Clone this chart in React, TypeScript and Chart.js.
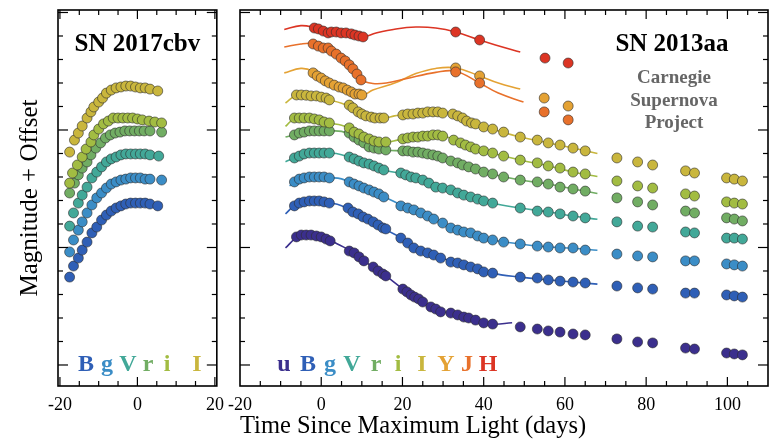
import React, { useEffect, useRef } from 'react';
import { Chart, registerables } from 'chart.js';

Chart.register(...registerables);

type P = [number, number];

const SERIF = "'Liberation Serif', 'Times New Roman', Times, serif";

// y axis: magnitude + offset (reversed), x axis: days since maximum light
const Y_MIN = 4.894;
const Y_MAX = 20.894;
const LEFT_X_MIN = -20.5;
const LEFT_X_MAX = 20.5;
const RIGHT_X_MIN = -20;
const RIGHT_X_MAX = 110;
const LEFT_X_LABELS = [-20, 0, 20];
const RIGHT_X_LABELS = [-20, 0, 20, 40, 60, 80, 100];

const COLORS: Record<string, string> = {
  u: '#3b2f8d',
  B: '#2f5fb6',
  g: '#3b8dc6',
  V: '#42a898',
  r: '#71ad63',
  i: '#a2bc42',
  I: '#c9b63d',
  Y: '#e4a234',
  J: '#e8712b',
  H: '#dc3524',
};

// ---------- SN 2017cbv (left panel) ----------
const cbv_I: P[] = [[-17.5,10.94],[-16.25,10.43],[-15.25,10.13],[-14.25,9.83],[-13,9.49],[-12,9.23],[-11.25,9.02],[-10,8.81],[-9,8.64],[-8,8.43],[-6.75,8.30],[-5.5,8.21],[-4.25,8.17],[-3,8.13],[-1.75,8.13],[-0.5,8.17],[0.75,8.21],[2,8.21],[3.25,8.26],[5.25,8.34]];
const cbv_i: P[] = [[-17.5,12.26],[-16.75,11.83],[-15.5,11.49],[-14.25,11.15],[-13.25,10.81],[-12,10.51],[-11.25,10.21],[-10,9.96],[-8.75,9.74],[-7.5,9.62],[-6.25,9.49],[-5,9.49],[-3.75,9.49],[-2.5,9.49],[-1.25,9.49],[0,9.53],[1.25,9.57],[3,9.62],[4.5,9.66],[6.25,9.70]];
const cbv_r: P[] = [[-17.5,12.68],[-16.25,12.26],[-15.25,11.91],[-14.25,11.62],[-13,11.36],[-12,11.06],[-10.75,10.77],[-9.5,10.55],[-8.25,10.34],[-7,10.21],[-5.75,10.13],[-4.5,10.09],[-3.25,10.04],[-2,10.04],[-0.75,10.04],[0.5,10.04],[1.75,10.04],[3.25,10.04],[6.25,10.09]];
const cbv_V: P[] = [[-17.5,14.09],[-16.5,13.53],[-15.25,13.11],[-14.25,12.77],[-13,12.43],[-11.75,12.04],[-10.5,11.79],[-9.25,11.57],[-8,11.36],[-6.75,11.23],[-5.5,11.15],[-4.25,11.06],[-3,11.02],[-1.75,11.02],[-0.5,11.02],[0.75,11.02],[2,11.02],[3.25,11.06],[5.5,11.11]];
const cbv_g: P[] = [[-17.5,15.19],[-16.5,14.68],[-15.25,14.26],[-14.25,13.91],[-13,13.53],[-11.75,13.19],[-10.5,12.89],[-9.25,12.68],[-8,12.47],[-6.75,12.30],[-5.5,12.21],[-4.25,12.13],[-3,12.09],[-1.75,12.04],[-0.5,12.04],[0.75,12.04],[2,12.09],[3.25,12.09],[6.25,12.13]];
const cbv_B: P[] = [[-17.5,16.26],[-16.5,15.79],[-15.25,15.45],[-14.25,15.11],[-13,14.77],[-11.75,14.38],[-10.5,14.13],[-9.25,13.83],[-8,13.62],[-6.75,13.45],[-5.5,13.32],[-4.25,13.23],[-3,13.15],[-1.75,13.11],[-0.5,13.11],[0.75,13.11],[2,13.11],[3.25,13.15],[5.25,13.23]];

// ---------- SN 2013aa (right panel) observations ----------
const aa_H: P[] = [[-1.7,5.66],[-0.7,5.70],[0.5,5.79],[1.7,5.87],[2.5,5.83],[3.7,5.83],[4.9,5.87],[6.1,5.87],[7.4,5.91],[8.3,5.96],[9.3,6.00],[10.3,6.04],[33.1,5.83],[39.0,6.17],[55.1,6.94],[60.8,7.15]];
const aa_J: P[] = [[-2.0,6.34],[-0.7,6.43],[0.5,6.51],[1.7,6.51],[2.5,6.64],[3.7,6.77],[4.9,6.94],[5.9,7.06],[6.9,7.23],[7.8,7.40],[8.8,7.62],[9.8,7.87],[33.1,7.53],[39.0,8.00],[54.9,9.23],[60.8,9.57]];
const aa_Y: P[] = [[-2.0,7.57],[-1.0,7.70],[0,7.79],[1.0,7.91],[2.0,8.00],[3.2,8.09],[4.4,8.17],[5.4,8.21],[6.4,8.30],[7.4,8.38],[8.3,8.47],[9.3,8.47],[10.0,8.51],[33.1,7.36],[39.0,7.70],[54.9,8.64],[60.8,8.98]];
const aa_I: P[] = [[-6.1,8.51],[-4.9,8.51],[-3.7,8.52],[-2.5,8.55],[-1.2,8.55],[0,8.60],[1.2,8.64],[2.0,8.72],[6.9,8.94],[7.8,9.06],[9.1,9.23],[10.0,9.32],[11.0,9.40],[12.3,9.45],[13.2,9.49],[14.5,9.49],[15.4,9.49],[20.1,9.36],[21.3,9.32],[22.6,9.32],[23.8,9.28],[25.0,9.28],[26.2,9.23],[27.5,9.23],[28.7,9.23],[29.9,9.28],[32.4,9.32],[33.6,9.40],[34.8,9.49],[35.8,9.62],[37.0,9.70],[38.0,9.74],[40.0,9.87],[42.2,9.96],[44.9,10.09],[49.0,10.30],[53.2,10.43],[55.9,10.55],[58.8,10.64],[62.0,10.77],[65.0,10.89],[72.8,11.19],[77.9,11.36],[81.6,11.49],[89.7,11.74],[91.9,11.83],[99.8,12.04],[101.7,12.09],[103.7,12.17]];
const aa_i: P[] = [[-6.6,9.49],[-5.4,9.49],[-4.2,9.49],[-2.9,9.49],[-1.7,9.53],[-0.5,9.57],[0.7,9.66],[2.0,9.70],[6.9,9.91],[8.1,10.09],[9.3,10.17],[10.5,10.30],[11.8,10.38],[13.0,10.47],[14.2,10.51],[15.9,10.51],[20.1,10.38],[21.3,10.34],[22.6,10.30],[23.8,10.30],[25.0,10.26],[26.2,10.26],[27.5,10.21],[28.7,10.21],[29.9,10.26],[32.6,10.43],[34.3,10.55],[35.5,10.64],[36.8,10.72],[38.0,10.81],[40.0,10.89],[42.2,10.98],[44.9,11.11],[49.0,11.28],[53.2,11.40],[55.9,11.53],[58.8,11.62],[62.0,11.79],[65.0,11.87],[72.8,12.17],[77.9,12.38],[81.6,12.47],[89.7,12.72],[91.9,12.81],[99.8,13.06],[101.7,13.11],[103.7,13.15]];
const aa_r: P[] = [[-6.6,10.21],[-5.4,10.13],[-4.2,10.09],[-2.9,10.04],[-1.7,10.04],[-0.5,10.04],[0.7,10.04],[2.0,10.04],[6.9,10.13],[8.1,10.30],[9.3,10.43],[10.5,10.55],[11.8,10.72],[13.0,10.77],[14.2,10.81],[15.9,10.85],[20.1,10.89],[21.3,10.89],[22.6,10.94],[23.8,10.94],[25.0,10.98],[26.2,11.02],[27.5,11.06],[28.7,11.11],[29.9,11.19],[31.9,11.32],[33.6,11.40],[34.8,11.49],[36.3,11.57],[38.0,11.66],[40.0,11.79],[42.2,11.87],[44.9,12.00],[49.0,12.13],[53.2,12.21],[55.9,12.30],[58.8,12.43],[62.0,12.51],[65.0,12.60],[72.8,12.89],[77.9,13.06],[81.6,13.19],[89.7,13.45],[91.9,13.53],[99.8,13.74],[101.7,13.79],[103.7,13.87]];
const aa_V: P[] = [[-6.6,11.19],[-5.4,11.11],[-4.2,11.02],[-2.9,10.98],[-1.7,10.98],[-0.5,10.98],[0.7,10.98],[2.0,10.98],[6.9,11.15],[8.1,11.23],[9.3,11.32],[10.5,11.40],[11.8,11.45],[13.0,11.53],[14.2,11.62],[15.4,11.70],[19.6,11.83],[20.8,11.91],[22.1,12.00],[23.3,12.04],[25.0,12.13],[26.5,12.26],[28.2,12.43],[29.9,12.47],[31.9,12.55],[33.6,12.68],[35.1,12.77],[36.8,12.85],[38.5,12.94],[40.0,13.02],[42.2,13.11],[49.0,13.32],[53.2,13.45],[55.9,13.49],[58.8,13.57],[62.0,13.66],[65.0,13.74],[72.8,13.91],[77.9,14.09],[81.6,14.13],[89.7,14.34],[91.9,14.38],[99.8,14.60],[101.7,14.60],[103.7,14.64]];
const aa_g: P[] = [[-6.6,12.21],[-5.4,12.09],[-4.2,12.04],[-2.9,12.00],[-1.7,12.00],[-0.5,12.00],[0.7,12.00],[2.0,12.04],[6.9,12.21],[8.1,12.30],[9.3,12.38],[10.5,12.47],[11.8,12.55],[13.0,12.64],[14.2,12.72],[15.4,12.85],[19.6,13.23],[21.3,13.32],[22.8,13.40],[24.5,13.53],[26.2,13.66],[27.7,13.79],[29.9,13.96],[31.9,14.17],[33.6,14.26],[35.1,14.34],[36.8,14.38],[38.5,14.51],[40.0,14.60],[42.2,14.68],[44.9,14.77],[49.0,14.85],[53.2,14.94],[55.9,14.98],[58.8,15.02],[62.0,15.02],[65.0,15.11],[72.8,15.28],[77.9,15.36],[81.6,15.40],[89.7,15.57],[91.9,15.57],[99.8,15.70],[101.7,15.74],[103.7,15.79]];
const aa_B: P[] = [[-6.6,13.23],[-5.4,13.11],[-4.2,13.06],[-2.9,13.02],[-1.7,13.02],[-0.5,13.02],[0.7,13.06],[2.0,13.11],[6.6,13.32],[7.8,13.49],[9.1,13.57],[10.3,13.70],[11.5,13.79],[12.8,13.91],[14.0,14.04],[15.2,14.17],[15.9,14.21],[19.6,14.60],[21.3,14.81],[22.8,15.02],[24.5,15.15],[26.2,15.23],[27.7,15.32],[29.4,15.45],[31.9,15.62],[33.6,15.66],[35.1,15.74],[36.8,15.83],[38.5,15.91],[40.0,16.04],[42.2,16.09],[49.0,16.26],[53.2,16.30],[55.9,16.38],[58.8,16.43],[62.0,16.47],[65.0,16.51],[72.8,16.64],[77.9,16.72],[81.6,16.77],[89.7,16.94],[91.9,16.94],[99.8,17.02],[101.7,17.06],[103.7,17.11]];
const aa_u: P[] = [[-6.1,14.55],[-4.9,14.47],[-3.7,14.47],[-2.5,14.47],[-1.2,14.51],[0,14.55],[1.2,14.64],[2.2,14.72],[6.9,15.15],[8.1,15.23],[9.3,15.40],[10.5,15.57],[12.8,15.83],[14.0,16.00],[15.2,16.13],[15.9,16.21],[20.1,16.77],[21.1,16.89],[22.1,17.02],[23.0,17.11],[24.0,17.19],[25.0,17.32],[27.0,17.53],[28.2,17.62],[29.4,17.74],[31.9,17.79],[33.6,17.87],[35.1,17.96],[36.3,18.00],[38.0,18.09],[40.0,18.21],[42.2,18.26],[49.0,18.38],[53.2,18.47],[55.9,18.55],[58.8,18.60],[62.0,18.68],[65.0,18.72],[72.8,18.89],[77.9,19.02],[81.6,19.06],[89.7,19.28],[91.9,19.32],[99.8,19.49],[101.7,19.53],[103.7,19.57]];

// ---------- SN 2013aa template fits (knots of the curves) ----------
const fit_H: P[] = [[-9.1,5.72],[-5,5.56],[-1.5,5.64],[4,5.85],[10,6.04],[13.5,5.87],[18.4,5.70],[23.3,5.62],[28.2,5.66],[33.1,5.83],[39,6.17],[42.9,6.38],[49,6.68]];
const fit_J: P[] = [[-9.1,6.47],[-5,6.34],[-2,6.32],[1,6.48],[5,6.92],[10,7.87],[12.7,8.02],[16,8.0],[20.8,7.82],[28.2,7.55],[33.1,7.50],[39,8.0],[43.6,8.43],[49.8,8.81]];
const fit_Y: P[] = [[-9.1,7.57],[-5,7.38],[-2,7.50],[3,8.05],[10,8.51],[12.7,8.30],[18.4,7.98],[23.3,7.60],[28.2,7.38],[33.1,7.36],[39,7.70],[43.6,8.0],[49,8.26]];
const fit_I: P[] = [[-8.8,8.85],[-6,8.52],[-2,8.54],[2,8.72],[5,8.86],[8,9.08],[11,9.40],[15.4,9.49],[18,9.40],[20,9.36],[25,9.27],[29,9.24],[33,9.36],[37,9.70],[42,9.96],[49,10.30],[56,10.55],[62,10.77],[68,11.0]];
const fit_i: P[] = [[-8.8,9.85],[-6.6,9.52],[-2,9.50],[2,9.70],[5,9.80],[8,10.0],[12,10.40],[16,10.52],[19,10.42],[24,10.29],[28,10.22],[31,10.30],[36,10.68],[42,10.98],[49,11.28],[56,11.53],[62,11.79],[68,11.98]];
const fit_r: P[] = [[-8.8,10.30],[-6.6,10.20],[-3,10.05],[2,10.04],[5,10.06],[8,10.25],[12,10.68],[16,10.85],[20,10.89],[25,10.98],[30,11.20],[36,11.55],[42,11.87],[49,12.13],[56,12.30],[62,12.51],[68,12.70]];
const fit_V: P[] = [[-8.8,11.35],[-6.6,11.19],[-3,10.98],[2,10.98],[5,11.05],[10,11.36],[16,11.72],[20,11.86],[25,12.13],[30,12.47],[36,12.82],[42,13.11],[49,13.32],[56,13.49],[62,13.66],[68,13.80]];
const fit_g: P[] = [[-7.8,12.38],[-5,12.08],[-2,12.0],[2,12.03],[5,12.08],[10,12.45],[16,12.88],[20,13.22],[25,13.55],[30,13.97],[36,14.40],[42,14.68],[49,14.85],[56,14.98],[62,15.03],[68,15.12]];
const fit_B: P[] = [[-8.8,13.57],[-6,13.15],[-2,13.02],[2,13.10],[5,13.22],[10,13.68],[16,14.25],[20,14.62],[24,15.12],[30,15.47],[36,15.78],[42,16.09],[49,16.26],[56,16.38],[62,16.47],[68,16.56]];
const fit_u: P[] = [[-8.8,15.02],[-6,14.58],[-3,14.47],[1,14.58],[4,14.85],[8,15.22],[12,15.75],[16,16.22],[20,16.75],[25,17.32],[30,17.72],[36,18.00],[42,18.26],[47,18.20]];

const LEFT_BANDS: [string, P[]][] = [['I', cbv_I], ['i', cbv_i], ['r', cbv_r], ['V', cbv_V], ['g', cbv_g], ['B', cbv_B]];
const RIGHT_BANDS: [string, P[], P[]][] = [
  ['H', aa_H, fit_H], ['J', aa_J, fit_J], ['Y', aa_Y, fit_Y], ['I', aa_I, fit_I], ['i', aa_i, fit_i],
  ['r', aa_r, fit_r], ['V', aa_V, fit_V], ['g', aa_g, fit_g], ['B', aa_B, fit_B], ['u', aa_u, fit_u],
];

// band-letter legends (letter, x offset from plot-left in px)
const LEFT_LEGEND: [string, number][] = [['B', 28], ['g', 49], ['V', 70], ['r', 90], ['i', 109], ['I', 139]];
const RIGHT_LEGEND: [string, number][] = [['u', 44], ['B', 68], ['g', 90], ['V', 112], ['r', 136], ['i', 158], ['I', 182], ['Y', 206], ['J', 227], ['H', 248]];

function pointSet(data: P[], color: string) {
  return {
    data: data.map(([x, y]) => ({ x, y })),
    pointRadius: 5,
    pointHoverRadius: 5,
    pointBackgroundColor: color,
    backgroundColor: color,
    pointBorderColor: 'rgba(45,45,45,0.75)',
    borderColor: 'rgba(45,45,45,0.75)',
    pointBorderWidth: 0.8,
    showLine: false,
    order: 1,
  };
}

function lineSet(data: P[], color: string) {
  return {
    data: data.map(([x, y]) => ({ x, y })),
    showLine: true,
    pointRadius: 0,
    pointHoverRadius: 0,
    borderColor: color,
    backgroundColor: color,
    borderWidth: 1.6,
    tension: 0.4,
    fill: false,
    order: 2,
  };
}

const framePlugin = {
  id: 'frame',
  afterDatasetsDraw(chart: any, _args: any, opts: any) {
    const { ctx, chartArea: a, scales } = chart;
    const xs = scales.x;
    const ys = scales.y;
    ctx.save();
    ctx.strokeStyle = '#000';
    ctx.lineWidth = 1.2;
    const seg = (x1: number, y1: number, x2: number, y2: number) => {
      ctx.beginPath();
      ctx.moveTo(x1, y1);
      ctx.lineTo(x2, y2);
      ctx.stroke();
    };
    const isMajor = (v: number, m: number) => Math.abs(v / m - Math.round(v / m)) < 1e-6;
    for (let v = Math.ceil(xs.min / opts.xMinor) * opts.xMinor; v <= xs.max + 1e-9; v += opts.xMinor) {
      const p = xs.getPixelForValue(v);
      if (p <= a.left + 0.5 || p >= a.right - 0.5) continue;
      const len = isMajor(v, opts.xMajor) ? 9 : 5;
      seg(p, a.bottom, p, a.bottom - len);
      seg(p, a.top, p, a.top + len);
    }
    for (let v = Math.ceil(ys.min / opts.yMinor) * opts.yMinor; v <= ys.max + 1e-9; v += opts.yMinor) {
      const p = ys.getPixelForValue(v);
      if (p <= a.top + 0.5 || p >= a.bottom - 0.5) continue;
      const len = isMajor(v, opts.yMajor) ? 10 : 5;
      seg(a.left, p, a.left + len, p);
      seg(a.right, p, a.right - len, p);
    }
    ctx.lineWidth = 1.6;
    ctx.strokeRect(a.left, a.top, a.right - a.left, a.bottom - a.top);
    ctx.restore();
  },
  afterDraw(chart: any, _args: any, opts: any) {
    const { ctx, chartArea: a } = chart;
    ctx.save();
    ctx.textBaseline = 'alphabetic';
    ctx.textAlign = 'center';
    for (const t of opts.texts || []) {
      ctx.font = t.font;
      ctx.fillStyle = t.color;
      const x = t.dx == null ? (a.left + a.right) / 2 : a.left + t.dx;
      ctx.fillText(t.text, x, a.top + t.dy);
    }
    ctx.restore();
  },
};

const tickFont = { family: SERIF, size: 18 };

function legendTexts(items: [string, number][]) {
  return items.map(([b, dx]) => ({ text: b, dx, dy: 361, font: `bold 24px ${SERIF}`, color: COLORS[b] }));
}

function leftConfig(): any {
  const datasets: any[] = [];
  for (const [b, pts] of LEFT_BANDS) datasets.push(pointSet(pts, COLORS[b]));
  return {
    type: 'scatter',
    data: { datasets },
    plugins: [framePlugin],
    options: {
      responsive: false,
      animation: false,
      events: [],
      layout: { padding: { top: 10, right: 10, left: 0, bottom: 0 } },
      plugins: {
        legend: { display: false },
        tooltip: { enabled: false },
        frame: {
          xMinor: 5, xMajor: 20, yMinor: 1, yMajor: 5,
          texts: [
            { text: 'SN 2017cbv', dx: null, dy: 41, font: `bold 25px ${SERIF}`, color: '#000' },
            ...legendTexts(LEFT_LEGEND),
          ],
        },
      },
      scales: {
        x: {
          type: 'linear',
          min: LEFT_X_MIN,
          max: LEFT_X_MAX,
          grid: { display: false, drawTicks: false },
          border: { display: false },
          ticks: { font: tickFont, color: '#000', padding: 8, maxRotation: 0, callback: (v: any) => String(v) },
          afterBuildTicks: (s: any) => { s.ticks = LEFT_X_LABELS.map((value) => ({ value })); },
          afterFit: (s: any) => { s.height = 58; },
        },
        y: {
          type: 'linear',
          reverse: true,
          min: Y_MIN,
          max: Y_MAX,
          grid: { display: false, drawTicks: false },
          border: { display: false },
          ticks: { display: false },
          title: {
            display: true,
            text: 'Magnitude + Offset',
            font: { family: SERIF, size: 25 },
            color: '#000',
            padding: { top: 15, bottom: 0 },
          },
          afterFit: (s: any) => { s.width = 58; },
        },
      },
    },
  };
}

function rightConfig(): any {
  const datasets: any[] = [];
  for (const [b, pts] of RIGHT_BANDS) datasets.push(pointSet(pts, COLORS[b]));
  for (const [b, , fit] of RIGHT_BANDS) datasets.push(lineSet(fit, COLORS[b]));
  return {
    type: 'scatter',
    data: { datasets },
    plugins: [framePlugin],
    options: {
      responsive: false,
      animation: false,
      events: [],
      layout: { padding: { top: 10, right: 8, left: 18, bottom: 0 } },
      plugins: {
        legend: { display: false },
        tooltip: { enabled: false },
        frame: {
          xMinor: 5, xMajor: 20, yMinor: 1, yMajor: 5,
          texts: [
            { text: 'SN 2013aa', dx: 432, dy: 41, font: `bold 25px ${SERIF}`, color: '#000' },
            { text: 'Carnegie', dx: 434, dy: 73, font: `bold 19px ${SERIF}`, color: '#666' },
            { text: 'Supernova', dx: 434, dy: 96, font: `bold 19px ${SERIF}`, color: '#666' },
            { text: 'Project', dx: 434, dy: 118, font: `bold 19px ${SERIF}`, color: '#666' },
            ...legendTexts(RIGHT_LEGEND),
          ],
        },
      },
      scales: {
        x: {
          type: 'linear',
          min: RIGHT_X_MIN,
          max: RIGHT_X_MAX,
          grid: { display: false, drawTicks: false },
          border: { display: false },
          ticks: { font: tickFont, color: '#000', padding: 8, maxRotation: 0, callback: (v: any) => String(v) },
          afterBuildTicks: (s: any) => { s.ticks = RIGHT_X_LABELS.map((value) => ({ value })); },
          afterFit: (s: any) => { s.height = 58; },
          title: {
            display: true,
            text: 'Time Since Maximum Light (days)',
            align: 'start',
            font: { family: SERIF, size: 24.5 },
            color: '#000',
            padding: { top: 0, bottom: 3 },
          },
        },
        y: {
          type: 'linear',
          display: false,
          reverse: true,
          min: Y_MIN,
          max: Y_MAX,
        },
      },
    },
  };
}

export default function App() {
  const leftRef = useRef<HTMLCanvasElement>(null);
  const rightRef = useRef<HTMLCanvasElement>(null);

  useEffect(() => {
    const c1 = new Chart(leftRef.current as HTMLCanvasElement, leftConfig());
    const c2 = new Chart(rightRef.current as HTMLCanvasElement, rightConfig());
    return () => {
      c1.destroy();
      c2.destroy();
    };
  }, []);

  return (
    <div style={{ position: 'absolute', left: 0, top: 0, width: 776, height: 444, background: '#fff', overflow: 'hidden' }}>
      <canvas ref={leftRef} width={232} height={444} style={{ position: 'absolute', left: 0, top: 0, width: 232, height: 444 }} />
      <canvas ref={rightRef} width={556} height={444} style={{ position: 'absolute', left: 220, top: 0, width: 556, height: 444 }} />
    </div>
  );
}
